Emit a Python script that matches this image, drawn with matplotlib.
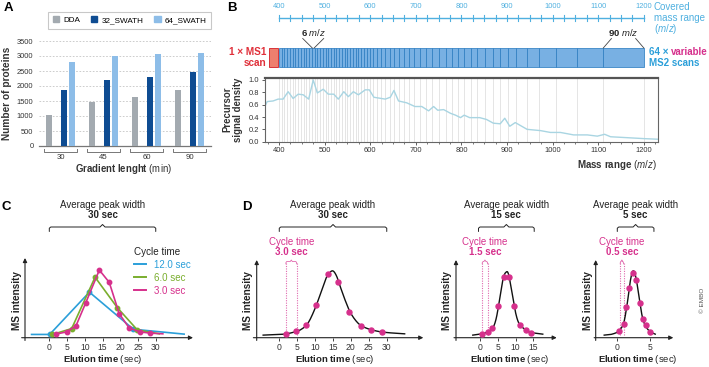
import numpy as np
import matplotlib
matplotlib.use('Agg')
import matplotlib.pyplot as plt
import matplotlib.transforms as mtransforms
from matplotlib.patches import Rectangle, Patch
from matplotlib.lines import Line2D

plt.rcParams['font.family'] = ['Liberation Sans', 'DejaVu Sans']
plt.rcParams['mathtext.fontset'] = 'custom'
plt.rcParams['mathtext.rm'] = 'Liberation Sans'
plt.rcParams['mathtext.it'] = 'Liberation Sans:italic'
plt.rcParams['mathtext.bf'] = 'Liberation Sans:bold'

# ------------------------------------------------------------------ data
# Panel A
gradients = ['30', '45', '60', '90']
methods = ['DDA', '32_SWATH', '64_SWATH']
dda = [1030, 1470, 1620, 1880]
swath32 = [1880, 2200, 2300, 2480]
swath64 = [2790, 3000, 3080, 3100]
a_yticks = [0, 500, 1000, 1500, 2000, 2500, 3000, 3500]

# Panel B
window_edges = [400, 406, 412, 418, 424, 430, 436, 442, 448, 454, 460, 466, 472, 478,
                484, 490, 496, 502, 508, 514, 520, 526, 532, 538, 544, 550, 556, 562,
                568, 574, 580, 586, 592, 599, 607, 615, 624, 633, 643, 653, 663, 674,
                685, 697, 709, 722, 736, 751, 766, 780, 793, 806, 820, 835, 851, 869,
                885, 901, 919, 943, 970, 1007, 1053, 1111, 1200]
density_mz = [369, 374, 387, 398, 409, 420, 431, 442, 453, 465, 475, 484, 497, 508,
              520, 530, 542, 552, 563, 574, 589, 598, 608, 633, 644, 652, 662, 680,
              698, 713, 728, 739, 748, 761, 776, 787, 798, 806, 818, 840, 855, 870,
              885, 895, 906, 918, 944, 973, 995, 1017, 1046, 1076, 1098, 1114, 1127,
              1164, 1200, 1231]
density = [0.57, 0.65, 0.66, 0.69, 0.69, 0.81, 0.70, 0.77, 0.76, 0.69, 1.00, 0.79,
           0.85, 0.77, 0.77, 0.69, 0.81, 0.73, 0.81, 0.76, 0.84, 0.84, 0.72, 0.69,
           0.72, 0.83, 0.66, 0.63, 0.57, 0.57, 0.50, 0.57, 0.51, 0.52, 0.46, 0.43,
           0.39, 0.43, 0.39, 0.39, 0.36, 0.30, 0.29, 0.38, 0.25, 0.31, 0.20, 0.18,
           0.15, 0.15, 0.11, 0.11, 0.09, 0.12, 0.08, 0.065, 0.05, 0.04]
ruler_major = [400, 500, 600, 700, 800, 900, 1000, 1100, 1200]
density_yticks = [0.0, 0.2, 0.4, 0.6, 0.8, 1.0]

# Panel C (cycle-time sampling of one peak)
cycle_labels = ['12.0 sec', '6.0 sec', '3.0 sec']
c12_t = [-5, 0.1, 11.3, 23.7, 38]
c12_i = [0.01, 0.01, 0.66, 0.09, 0.015]
c6_t = [0.9, 6.3, 12.9, 19.2, 24.8, 31]
c6_i = [0.01, 0.10, 0.89, 0.42, 0.08, 0.02]
c3_t = [1.9, 4.9, 7.5, 10.3, 14.1, 16.9, 19.7, 22.5, 25.5, 28.5, 32]
c3_i = [0.015, 0.05, 0.14, 0.50, 1.00, 0.81, 0.33, 0.11, 0.05, 0.03, 0.02]
c_ticks = [0, 5, 10, 15, 20, 25, 30]

# Panel D: peak profiles (key points of the curve) and sampled points
d1_curve_t = [-4.5, 0, 2, 4, 6, 8, 10, 11.5, 13, 14, 15, 16, 17, 18.5, 20, 22, 24, 27, 30, 35]
d1_curve_i = [0.005, 0.015, 0.025, 0.05, 0.09, 0.19, 0.42, 0.65, 0.88, 0.97, 1.0, 0.92,
              0.76, 0.53, 0.34, 0.19, 0.12, 0.07, 0.045, 0.025]
d1_pts_t = [1.8, 4.7, 7.5, 10.3, 13.5, 16.5, 19.6, 22.8, 25.6, 28.7]
d1_pts_i = [0.025, 0.066, 0.16, 0.47, 0.96, 0.83, 0.37, 0.14, 0.077, 0.05]
d1_cycle = [1.85, 4.85]
d1_ticks = [0, 5, 10, 15, 20, 25, 30]

d2_curve_t = [-2, 0, 2, 3.5, 4.5, 5.5, 6.5, 7.3, 8, 9, 10, 11, 12.5, 14, 17.6]
d2_curve_i = [0.005, 0.02, 0.05, 0.11, 0.25, 0.55, 0.88, 0.98, 0.95, 0.66, 0.35, 0.18,
              0.10, 0.05, 0.02]
d2_pts_t = [0.5, 2.3, 3.5, 5.15, 6.65, 8.25, 9.55, 11.2, 12.8, 14.3]
d2_pts_i = [0.026, 0.05, 0.11, 0.45, 0.91, 0.90, 0.46, 0.16, 0.09, 0.04]
d2_cycle = [0.65, 2.15]
d2_ticks = [0, 5, 10, 15]

d3_curve_t = [-2, -1, 0, 0.5, 1, 1.5, 2, 2.4, 2.8, 3.3, 3.8, 4.3, 5, 5.8]
d3_curve_i = [0.005, 0.015, 0.05, 0.1, 0.2, 0.48, 0.85, 1.0, 0.92, 0.62, 0.30, 0.15,
              0.06, 0.02]
d3_pts_t = [0.31, 0.97, 1.38, 1.79, 2.35, 2.9, 3.47, 3.87, 4.33, 4.99]
d3_pts_i = [0.07, 0.17, 0.44, 0.73, 0.97, 0.86, 0.51, 0.26, 0.16, 0.06]
d3_cycle = [0.45, 0.95]
d3_ticks = [0, 5]

# colours
GREY = '#a3aab0'
DBLUE = '#0e4c92'
LBLUE = '#8dbde8'
RULER = '#4fb0e0'
CYAN = '#2b9fd9'
GREEN = '#7aae2e'
MAG = '#d6308c'
RED = '#e0303a'
INK = '#222222'

# ------------------------------------------------------------------ helpers
W, H = 709, 367
fig = plt.figure(figsize=(W / 100, H / 100), dpi=100)


def add_ax(x0, y0, x1, y1):
    return fig.add_axes([x0 / W, 1 - y1 / H, (x1 - x0) / W, (y1 - y0) / H])


def fy(y):
    return 1 - y / H


def T(x, y, s, **kw):
    kw.setdefault('ha', 'center')
    kw.setdefault('va', 'center')
    return fig.text(x / W, fy(y), s, **kw)


def bt(ax):
    return mtransforms.blended_transform_factory(ax.transData, fig.transFigure)


def upp(ax):
    x0, x1 = ax.get_xlim()
    return (x1 - x0) / (ax.get_position().width * W)


def brace(ax, t0, t1, y, h_end=4.5, h_mid=2.5, e_px=1.5, d_px=2.5, color=INK, lw=0.7):
    u = upp(ax)
    e, d = e_px * u, d_px * u
    tm = (t0 + t1) / 2
    xs = [t0, t0, t0 + e, tm - d, tm, tm + d, t1 - e, t1, t1]
    ys = [y + h_end, y + 1.2, y, y, y - h_mid, y, y, y + 1.2, y + h_end]
    ax.plot(xs, [fy(v) for v in ys], transform=bt(ax), color=color, lw=lw,
            clip_on=False, solid_joinstyle='round', solid_capstyle='round')


def smooth(xs, ys, n=24):
    pts = np.column_stack([xs, ys]).astype(float)
    P = np.vstack([2 * pts[0] - pts[1], pts, 2 * pts[-1] - pts[-2]])
    out = []
    for i in range(1, len(P) - 2):
        p0, p1, p2, p3 = P[i - 1], P[i], P[i + 1], P[i + 2]
        for s in np.linspace(0, 1, n, endpoint=False):
            out.append(0.5 * (2 * p1 + (-p0 + p2) * s + (2 * p0 - 5 * p1 + 4 * p2 - p3) * s ** 2
                              + (-p0 + 3 * p1 - 3 * p2 + p3) * s ** 3))
    out.append(pts[-1])
    out = np.array(out)
    return out[:, 0], out[:, 1]


def arrow_axes(ax):
    for s in ax.spines.values():
        s.set_visible(False)
    ax.set_yticks([])
    ap = dict(arrowstyle='-|>', mutation_scale=6, lw=0.8, color=INK, shrinkA=0, shrinkB=0)
    ax.annotate('', xy=(1, 0), xytext=(-0.02, 0), xycoords='axes fraction', arrowprops=ap)
    ax.annotate('', xy=(0, 1), xytext=(0, -0.035), xycoords='axes fraction', arrowprops=ap)
    ax.tick_params(axis='x', length=2, width=0.6, pad=1.5, labelsize=6.2, color=INK,
                   labelcolor='#333333')
    ax.patch.set_alpha(0)


FS = 7.0  # main annotation font size
YEL = 359.5  # elution-time label row

# ------------------------------------------------------------------ panel A
axA = add_ax(39, 41, 211, 146)
xg = np.arange(len(gradients))
bw = 0.13
axA.bar(xg - 0.264, dda, bw, color=GREY, zorder=3)
axA.bar(xg + 0.085, swath32, bw, color=DBLUE, zorder=3)
axA.bar(xg + 0.27, swath64, bw, color=LBLUE, zorder=3)
axA.set_xlim(-0.5, 3.5)
axA.set_ylim(0, 3500)
axA.set_yticks(a_yticks)
axA.yaxis.grid(True, color='#c4c4c4', lw=0.6, ls=(0, (2, 2)))
axA.set_axisbelow(True)
for k in ['left', 'top', 'right']:
    axA.spines[k].set_visible(False)
axA.spines['bottom'].set_color('#777777')
axA.spines['bottom'].set_linewidth(0.9)
axA.set_xticks([])
axA.tick_params(axis='y', length=0, pad=4, labelsize=5.4, labelcolor='#333333')
for i, g in enumerate(gradients):
    axA.plot([i - 0.395, i - 0.395, i + 0.395, i + 0.395],
             [fy(148.5), fy(151.5), fy(151.5), fy(148.5)], transform=bt(axA),
             color='#777777', lw=0.7, clip_on=False)
    axA.text(i, fy(157.5), g, transform=bt(axA), ha='center', va='center',
             fontsize=5.6, color='#333333')
T(124, 169, r'$\mathbf{Gradient\ lenght}$ (min)', fontsize=6.9, color='#333333')
T(7.5, 93, 'Number of proteins', rotation=90, fontsize=7.3, weight='bold', color='#333333')
handles = [Patch(color=c) for c in (GREY, DBLUE, LBLUE)]
leg = axA.legend(handles, methods, ncol=3, loc='upper right', bbox_to_anchor=(1.0, 1.28),
                 fontsize=5.9, frameon=True, fancybox=False, edgecolor='#bbbbbb',
                 handlelength=0.8, handleheight=0.8, columnspacing=1.3, handletextpad=0.5,
                 borderpad=0.55, borderaxespad=0)
leg.get_frame().set_linewidth(0.8)
T(8, 8, 'A', fontsize=9.5, weight='bold')

# ------------------------------------------------------------------ panel B
BX0, BX1 = 264.7, 658
blim = (368.6, 1231)
axBt = add_ax(BX0, 0, BX1, 75)
axBt.set_xlim(*blim)
axBt.set_ylim(75, 0)
axBt.axis('off')
# ruler
axBt.plot([window_edges[0], window_edges[-1]], [18, 18], color=RULER, lw=1.0)
for m in np.arange(window_edges[0], window_edges[-1] + 1, 25):
    axBt.plot([m, m], [15, 21], color=RULER, lw=0.8)
for m in ruler_major:
    axBt.text(m, 7, str(m), ha='center', va='center', fontsize=5.4, color=RULER)
# windows
for a, b in zip(window_edges[:-1], window_edges[1:]):
    axBt.add_patch(Rectangle((a, 48), b - a, 19, facecolor='#78b0e3', edgecolor='#2f7fc2',
                             lw=0.55))
axBt.add_patch(Rectangle((window_edges[0] - 22, 48), 20, 19, facecolor='#ee7f6e',
                         edgecolor='#d8343a', lw=0.7))
# annotations
wl, wr = window_edges[12], window_edges[13]
axBt.plot([wl - 20, wl + 1], [38.5, 48], color='#444444', lw=0.6)
axBt.plot([wr + 20, wr - 1], [38.5, 48], color='#444444', lw=0.6)
axBt.text((wl + wr) / 2, 32.5, r'$\mathbf{6}$ $\mathit{m/z}$', ha='center', va='center',
          fontsize=6.8, color=INK)
wl, wr = window_edges[-2], window_edges[-1]
axBt.plot([wl, wl + 18], [48, 38.5], color='#444444', lw=0.6)
axBt.plot([wr, wr - 18], [48, 38.5], color='#444444', lw=0.6)
axBt.text((wl + wr) / 2 - 1, 32.5, r'$\mathbf{90}$ $\mathit{m/z}$', ha='center', va='center',
          fontsize=6.8, color=INK)

T(654, 7, 'Covered', ha='left', fontsize=7.0, color=RULER)
T(654, 18, 'mass range', ha='left', fontsize=7.0, color=RULER)
T(654, 29, r'($\mathit{m/z}$)', ha='left', fontsize=7.0, color=RULER)
T(266, 52, '1 × MS1', ha='right', fontsize=7.2, weight='bold', color=RED)
T(266, 62.5, 'scan', ha='right', fontsize=7.2, weight='bold', color=RED)
t64 = T(649, 52, '64 × ', ha='left', fontsize=7.0, weight='bold', color=CYAN)
T(649, 62.5, 'MS2 scans', ha='left', fontsize=7.0, weight='bold', color=CYAN)
fig.canvas.draw()
bb = t64.get_window_extent()
T(bb.x1 * 100 / fig.dpi, 52, 'variable', ha='left', fontsize=7.0, weight='bold', color=MAG)

axB = add_ax(BX0, 78, BX1, 141.7)
axB.set_xlim(*blim)
axB.set_ylim(0, 1.032)
axB.vlines(window_edges, 0, 1.032, color='#e0e0e0', lw=0.6, zorder=0)
axB.plot(density_mz, density, color='#a9d5e2', lw=1.0, zorder=2)
axB.set_xticks(ruler_major)
axB.set_xticks(np.arange(375, 1231, 25), minor=True)
axB.set_yticks(density_yticks)
axB.set_yticklabels([f'{v:.1f}' for v in density_yticks])
axB.tick_params(which='major', length=2.5, width=0.6, pad=1.5, labelsize=5.4,
                color='#444444', labelcolor='#333333')
axB.tick_params(which='minor', length=1.6, width=0.5, color='#444444')
for k, s in axB.spines.items():
    s.set_color('#666666')
    s.set_linewidth(0.8)
axB.spines['top'].set_linewidth(1.6)
axB.spines['top'].set_color('#555555')
T(233, 109.5, 'Precursor\nsignal density', rotation=90, fontsize=6.9, weight='bold',
  color='#333333', linespacing=1.1)
T(617, 165, r'$\mathbf{Mass\ range}$ ($\mathit{m/z}$)', fontsize=7.0, color='#333333')
T(232, 8, 'B', fontsize=9.5, weight='bold')

# ------------------------------------------------------------------ panel C
axC = add_ax(25, 258, 193, 337.7)
axC.set_xlim(-6.85, 40.5)
axC.set_ylim(-0.04, 1.185)
arrow_axes(axC)
axC.set_xticks(c_ticks)
axC.plot(c12_t, c12_i, color=CYAN, lw=1.2, marker='o', ms=3.2, markevery=slice(1, -1),
         zorder=3, clip_on=False)
axC.plot(c6_t, c6_i, color=GREEN, lw=1.2, marker='o', ms=3.2, markevery=slice(0, -1),
         zorder=4, clip_on=False)
axC.plot(c3_t, c3_i, color=MAG, lw=1.2, marker='o', ms=3.2, markevery=slice(0, -1),
         zorder=5, clip_on=False)
lh = [Line2D([], [], color=c, lw=1.4) for c in (CYAN, GREEN, MAG)]
legC = axC.legend(lh, cycle_labels, title='Cycle time', loc='upper left',
                  bbox_to_anchor=(0.62, 1.2), frameon=False, fontsize=7.0,
                  title_fontsize=7.1, handlelength=1.2, handletextpad=0.9,
                  labelspacing=0.3, borderpad=0, alignment='left')
for txt, c in zip(legC.get_texts(), (CYAN, GREEN, MAG)):
    txt.set_color(c)
legC.get_title().set_color(INK)
brace(axC, 0, 30, 227)
axC.text(15, fy(205), 'Average peak width', transform=bt(axC), ha='center', va='center',
         fontsize=FS, color=INK)
axC.text(15, fy(215.5), '30 sec', transform=bt(axC), ha='center', va='center',
         fontsize=FS, weight='bold', color=INK)
axC.text(15, fy(YEL), r'$\mathbf{Elution\ time}$ (sec)', transform=bt(axC), ha='center',
         va='center', fontsize=6.8, color=INK)
T(17, 300, 'MS intensity', rotation=90, fontsize=7.2, weight='bold', color=INK)
T(6, 207, 'C', fontsize=9.5, weight='bold')

# ------------------------------------------------------------------ panel D
panels = [
    (256.7, 423.3, (-6.3, 40.2), d1_ticks, d1_curve_t, d1_curve_i, d1_pts_t, d1_pts_i,
     d1_cycle, '30 sec', '3.0 sec', (0, 30), 15.6, 248.3),
    (456.0, 556.7, (-6.7, 21.5), d2_ticks, d2_curve_t, d2_curve_i, d2_pts_t, d2_pts_i,
     d2_cycle, '15 sec', '1.5 sec', (-0.4, 15.2), 8.4, 446.7),
    (595.7, 673.3, (-3.3, 8.56), d3_ticks, d3_curve_t, d3_curve_i, d3_pts_t, d3_pts_i,
     d3_cycle, '5 sec', '0.5 sec', (0, 5.6), 3.2, 588.3),
]
for (x0, x1, tl, ticks, ct, ci, pt, pi, cyc, pw, cs, br, xlab, ylabx) in panels:
    ax = add_ax(x0, 260, x1, 337.7)
    ax.set_xlim(*tl)
    ax.set_ylim(-0.035, 1.17)
    arrow_axes(ax)
    ax.set_xticks(ticks)
    sx, sy = smooth(ct, ci)
    ax.plot(sx, sy, color='#111111', lw=1.0, zorder=3, clip_on=False)
    ax.plot(pt, pi, ls='none', marker='o', ms=3.6, color=MAG, zorder=4, clip_on=False)
    ax.vlines(cyc, 0.0, 1.13, colors='#e06aae', linestyles=(0, (1, 1.2)), lw=0.8,
              clip_on=False, zorder=2)
    brace(ax, cyc[0], cyc[1], 261.5, h_end=2.5, h_mid=1.5, e_px=0.8, d_px=1.0,
          color='#e06aae', lw=0.6)
    cm = (cyc[0] + cyc[1]) / 2
    ax.text(cm, fy(241.7), 'Cycle time', transform=bt(ax), ha='center', va='center',
            fontsize=FS, color=MAG)
    ax.text(cm, fy(251.7), cs, transform=bt(ax), ha='center', va='center',
            fontsize=FS, weight='bold', color=MAG)
    brace(ax, br[0], br[1], 227)
    bm = (br[0] + br[1]) / 2
    ax.text(bm, fy(205), 'Average peak width', transform=bt(ax), ha='center', va='center',
            fontsize=FS, color=INK)
    ax.text(bm, fy(215.5), pw, transform=bt(ax), ha='center', va='center',
            fontsize=FS, weight='bold', color=INK)
    ax.text(xlab, fy(YEL), r'$\mathbf{Elution\ time}$ (sec)', transform=bt(ax), ha='center',
            va='center', fontsize=6.8, color=INK)
    T(ylabx, 300, 'MS intensity', rotation=90, fontsize=7.2, weight='bold', color=INK)
T(247, 207, 'D', fontsize=9.5, weight='bold')

T(703, 300, '© EMBO', rotation=90, fontsize=4.6, color='#555555')

fig.savefig('out.png', dpi=100)
